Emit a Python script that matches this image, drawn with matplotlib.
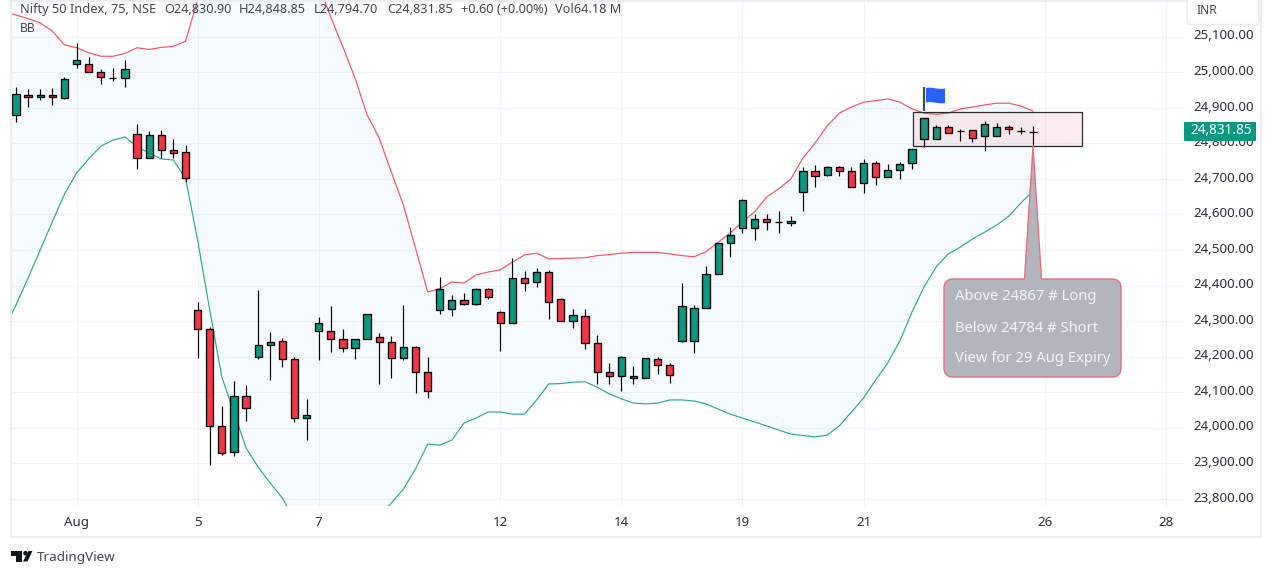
import matplotlib
matplotlib.use("Agg")
import matplotlib.pyplot as plt
from matplotlib.patches import PathPatch, Rectangle, FancyBboxPatch, Circle, Polygon
from matplotlib.path import Path
from matplotlib.transforms import ScaledTranslation
import numpy as np

plt.rcParams['font.family'] = ['Noto Sans', 'DejaVu Sans']

# 75 minute candles
opens = [24879, 24937, 24929, 24935, 24927, 25022, 25022, 25000, 24983, 24983,
         24827, 24758, 24824, 24780, 24775, 24330, 24277, 24004, 23931, 24088,
         24198, 24234, 24243, 24192, 24026, 24271, 24271, 24249, 24223, 24249,
         24254, 24240, 24195, 24226, 24158, 24330, 24333, 24358, 24347, 24389,
         24325, 24294, 24420, 24409, 24437, 24361, 24299, 24313, 24237, 24156,
         24144, 24144, 24139, 24192, 24175, 24243, 24243, 24336, 24431, 24519,
         24561, 24561, 24586, 24578, 24575, 24662, 24721, 24710, 24733, 24721,
         24687, 24744, 24704, 24724, 24744, 24811, 24811, 24845, 24834, 24837,
         24820, 24820, 24845, 24836, 24830.90]
highs = [24958, 24952, 24952, 24955, 24986, 25081, 25042, 25008, 25011, 25034,
         24854, 24834, 24837, 24811, 24794, 24354, 24282, 24061, 24131, 24119,
         24387, 24269, 24251, 24198, 24082, 24310, 24341, 24279, 24249, 24319,
         24265, 24257, 24344, 24229, 24198, 24423, 24372, 24378, 24392, 24392,
         24327, 24476, 24440, 24448, 24443, 24364, 24333, 24333, 24260, 24181,
         24201, 24173, 24195, 24198, 24181, 24406, 24344, 24454, 24519, 24566,
         24642, 24600, 24600, 24609, 24595, 24733, 24738, 24735, 24735, 24733,
         24755, 24749, 24741, 24747, 24783, 24870, 24851, 24851, 24839, 24837,
         24862, 24856, 24851, 24845, 24848.85]
lows = [24861, 24903, 24923, 24909, 24926, 25013, 25000, 24968, 24976, 24959,
        24729, 24758, 24758, 24758, 24692, 24197, 23895, 23924, 23921, 24020,
        24194, 24135, 24172, 24016, 23966, 24191, 24214, 24214, 24194, 24249,
        24124, 24141, 24191, 24098, 24084, 24321, 24315, 24344, 24344, 24361,
        24217, 24294, 24385, 24397, 24307, 24299, 24281, 24222, 24122, 24124,
        24104, 24124, 24139, 24152, 24127, 24240, 24211, 24336, 24431, 24479,
        24547, 24529, 24557, 24549, 24568, 24611, 24678, 24707, 24707, 24676,
        24659, 24684, 24704, 24701, 24727, 24789, 24811, 24828, 24806, 24803,
        24778, 24820, 24825, 24825, 24794.70]
closes = [24938, 24929, 24935, 24929, 24980, 25034, 25000, 24986, 24983, 25008,
          24758, 24824, 24780, 24772, 24702, 24277, 24004, 23928, 24088, 24054,
          24234, 24240, 24192, 24026, 24037, 24294, 24249, 24223, 24249, 24319,
          24240, 24195, 24226, 24158, 24102, 24389, 24358, 24347, 24389, 24367,
          24294, 24420, 24406, 24437, 24353, 24299, 24316, 24237, 24156, 24144,
          24198, 24139, 24195, 24175, 24147, 24341, 24336, 24431, 24519, 24541,
          24640, 24586, 24578, 24578, 24581, 24721, 24707, 24733, 24721, 24676,
          24744, 24704, 24724, 24741, 24783, 24870, 24845, 24828, 24834, 24814,
          24854, 24845, 24839, 24836, 24831.85]

# Bollinger bands, first value is the bar before the first candle
bb_upper = [25172, 25161, 25151, 25139, 25116, 25077, 25069, 25055, 25045, 25045,
            25053, 25069, 25064, 25070, 25073, 25087, 25203, 25274, 25344, 25400,
            25442, 25471, 25485, 25485, 25457, 25372, 25245, 25155, 25071, 24984,
            24880, 24815, 24719, 24626, 24505, 24382, 24391, 24410, 24407, 24430,
            24438, 24444, 24466, 24486, 24491, 24475, 24476, 24477, 24478, 24484,
            24487, 24491, 24493, 24493, 24493, 24489, 24484, 24481, 24495, 24522,
            24548, 24579, 24607, 24649, 24672, 24700, 24759, 24801, 24849, 24885,
            24902, 24916, 24920, 24925, 24916, 24897, 24885, 24882, 24885, 24897,
            24902, 24908, 24913, 24913, 24905, 24891]
bb_lower = [24275, 24345, 24421, 24500, 24579, 24657, 24716, 24756, 24792, 24809,
            24818, 24790, 24773, 24756, 24753, 24702, 24528, 24331, 24142, 24044,
            23943, 23889, 23844, 23802, 23740, 23698, 23670, 23656, 23656, 23675,
            23712, 23751, 23788, 23827, 23884, 23954, 23951, 23965, 24013, 24027,
            24044, 24044, 24038, 24038, 24078, 24123, 24124, 24128, 24129, 24114,
            24095, 24081, 24069, 24067, 24069, 24078, 24078, 24075, 24067, 24052,
            24038, 24027, 24016, 24005, 23993, 23982, 23978, 23974, 23979, 24005,
            24044, 24083, 24134, 24182, 24244, 24325, 24396, 24452, 24489, 24508,
            24531, 24550, 24570, 24595, 24632, 24666]

price_ticks = [23800, 23900, 24000, 24100, 24200, 24300, 24400, 24500, 24600,
               24700, 24800, 24900, 25000, 25100]
date_positions = [5, 15, 25, 40, 50, 60, 70, 85, 95]
date_labels = ['Aug', '5', '7', '12', '14', '19', '21', '26', '28']

GREEN = '#089981'
RED = '#f23645'
GRID = '#eff2f8'
TEXT = '#434651'

W, H = 1273, 572
fig = plt.figure(figsize=(W / 100, H / 100), dpi=100, facecolor='white')

ax = fig.add_axes([11 / W, (H - 506) / H, (1184 - 11) / W, 506 / H])
ax.set_xlim(-0.413, 96.47)
ax.set_ylim(23779.6, 25203.3)
for s in ax.spines.values():
    s.set_visible(False)
ax.set_axisbelow(True)
ax.grid(True, color=GRID, linewidth=0.8)
ax.yaxis.tick_right()
ax.set_yticks(price_ticks)
ax.set_yticklabels([f"{p:,.2f}" for p in price_ticks], fontsize=9.6, color='#2a2e39')
ax.set_xticks(date_positions)
ax.set_xticklabels(date_labels, fontsize=9.6, color='#2a2e39')
ax.tick_params(axis='both', length=0)
ax.tick_params(axis='y', pad=7)
ax.tick_params(axis='x', pad=7)
# price labels sit a little above their grid lines
for lab in ax.get_yticklabels():
    lab.set_transform(lab.get_transform() + ScaledTranslation(0, 1.6 / 72, fig.dpi_scale_trans))

# bands
idx_band = np.arange(len(bb_upper)) - 1
ax.fill_between(idx_band, bb_lower, bb_upper, color='#2196f3', alpha=0.045, linewidth=0, zorder=1)
ax.plot(idx_band, bb_upper, color=RED, linewidth=0.85, alpha=0.85, zorder=2)
ax.plot(idx_band, bb_lower, color=GREEN, linewidth=0.85, alpha=0.85, zorder=2)

# candles
idx = np.arange(len(opens))
opens_a, closes_a = np.array(opens), np.array(closes)
ax.vlines(idx, lows, highs, color='black', linewidth=0.85, zorder=3)
colors = [GREEN if c >= o else RED for o, c in zip(opens, closes)]
ax.bar(idx, np.abs(closes_a - opens_a), bottom=np.minimum(opens_a, closes_a), width=0.6,
       color=colors, edgecolor='black', linewidth=0.95, zorder=4)

# marked range
ax.add_patch(Rectangle((74.08, 24792.5), 13.96, 94.3, facecolor=RED, alpha=0.09, linewidth=0, zorder=5))
ax.add_patch(Rectangle((74.08, 24792.5), 13.96, 94.3, fill=False, edgecolor='#2a2a2e', linewidth=0.9, zorder=5))

# everything around the chart, in pixels
ov = fig.add_axes([0, 0, 1, 1], facecolor='none')
ov.set_xlim(0, W)
ov.set_ylim(H, 0)
ov.axis('off')

ov.add_patch(Rectangle((10.5, 0.5), 1250.5, 536.5, fill=False, edgecolor='#eceef4', linewidth=1.6))
ov.add_patch(FancyBboxPatch((1187, -6), 72, 30.5, boxstyle='round,pad=0,rounding_size=4',
                            facecolor='white', edgecolor='#eceef4', linewidth=1.2))
ov.text(1207, 11, 'INR', fontsize=8.8, color=TEXT, ha='center', va='center')

# header texts
header = [(20, 'Nifty 50 Index, 75, NSE'), (164, 'O24,830.90'), (239, 'H24,848.85'),
          (314, 'L24,794.70'), (387, 'C24,831.85'), (461, '+0.60 (+0.00%)'), (555, 'Vol64.18 M')]
for x, s in header:
    ov.text(x, 9.5, s, fontsize=9.2, color=TEXT, ha='left', va='center')
ov.text(20, 28.5, 'BB', fontsize=8.8, color=TEXT, ha='left', va='center')

# last price label
ov.add_patch(FancyBboxPatch((1184, 122), 72, 19, boxstyle='round,pad=0,rounding_size=1',
                            facecolor=GREEN, edgecolor='none'))
ov.text(1221.5, 131, '24,831.85', fontsize=9.8, fontweight='bold', color='white', ha='center', va='center')

# flag
ov.plot([923.5, 923.5], [87, 111], color='#4a4a50', linewidth=1.6, solid_capstyle='butt')
flag_v = [(926, 88), (932, 86.5), (938, 90), (945, 88.5), (945, 103),
          (939, 104.5), (933, 101), (926, 102.5), (926, 88), (926, 88)]
flag_c = [Path.MOVETO, Path.CURVE4, Path.CURVE4, Path.CURVE4, Path.LINETO,
          Path.CURVE4, Path.CURVE4, Path.CURVE4, Path.LINETO, Path.CLOSEPOLY]
ov.add_patch(PathPatch(Path(flag_v, flag_c), facecolor='#2962ff', edgecolor='none'))

# callout with its tail
l, r, t, b, rad = 944, 1121, 279, 377, 9
tip = (1033, 146)
verts = [(l + rad, t), (1024.5, t), tip, (1041.5, t), (r - rad, t), (r, t), (r, t + rad), (r, b - rad),
         (r, b), (r - rad, b), (l + rad, b), (l, b), (l, b - rad), (l, t + rad), (l, t), (l + rad, t), (l + rad, t)]
codes = [Path.MOVETO, Path.LINETO, Path.LINETO, Path.LINETO, Path.LINETO, Path.CURVE3, Path.CURVE3, Path.LINETO,
         Path.CURVE3, Path.CURVE3, Path.LINETO, Path.CURVE3, Path.CURVE3, Path.LINETO, Path.CURVE3, Path.CURVE3,
         Path.CLOSEPOLY]
ov.add_patch(PathPatch(Path(verts, codes), facecolor='#b2b5be', edgecolor='#e4707c', linewidth=1.0))
for y, s in [(297, 'Above 24867 # Long'), (328, 'Below 24784 # Short'), (359, 'View for 29 Aug Expiry')]:
    ov.text(955, y, s, fontsize=10.65, color='#f4f5f9', ha='left', va='center')

# logo and name
ov.add_patch(Polygon([(11, 551), (21.7, 551), (21.7, 561.5), (16, 561.5), (16, 556), (11, 556)], color='#131722', linewidth=0))
ov.add_patch(Circle((25.5, 553.2), 2.3, color='#131722', linewidth=0))
ov.add_patch(Polygon([(28.5, 551), (32.5, 551), (27.5, 561.5), (23, 561.5)], color='#131722', linewidth=0))
ov.text(37, 557.5, 'TradingView', fontsize=9.7, color=TEXT, ha='left', va='center')

fig.savefig('out.png', dpi=100)
